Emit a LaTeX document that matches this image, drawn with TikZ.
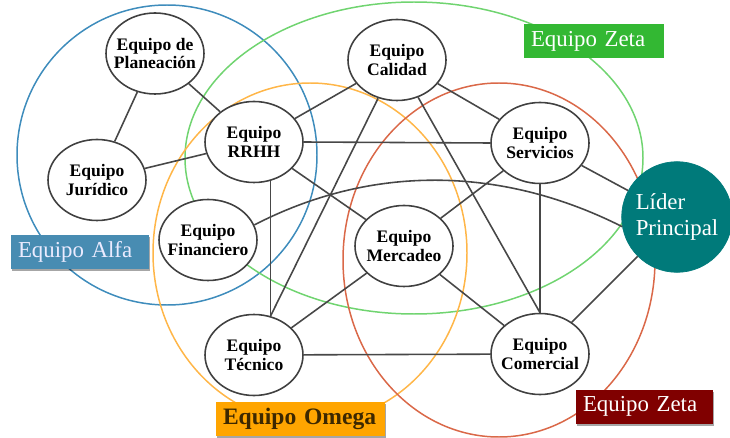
\documentclass[tikz,border=0pt]{standalone}
\usepackage{fontspec}
\setmainfont{Liberation Serif}
\usepackage{tikz}
\usetikzlibrary{shapes.geometric,shadows}

\definecolor{alfafill}{RGB}{72,140,178}
\definecolor{alfaline}{RGB}{62,140,188}
\definecolor{zetafill}{RGB}{51,184,51}
\definecolor{zetaline}{RGB}{112,212,112}
\definecolor{omegafill}{RGB}{255,165,0}
\definecolor{omegaline}{RGB}{255,182,72}
\definecolor{omegatext}{RGB}{60,40,0}
\definecolor{rojofill}{RGB}{128,0,0}
\definecolor{rojoline}{RGB}{218,104,72}
\definecolor{lidercol}{RGB}{0,122,122}

\begin{document}
\begin{tikzpicture}[
    team/.style={ellipse, draw=black!75, fill=white, line width=0.9pt,
                minimum width=1.96cm, minimum height=1.62cm, inner sep=-6pt,
                align=center, font=\fontsize{10}{10.5}\selectfont\bfseries},
    leader/.style={circle, fill=lidercol, draw=lidercol, minimum size=2.16cm,
                align=left, text=white, font=\fontsize{13}{14.5}\selectfont},
    link/.style={draw=black!72, line width=0.9pt},
    group/.style={line width=0.85pt},
    tag/.style={minimum height=0.68cm, inner xsep=0.14cm, align=left,
                font=\fontsize{13}{14}\selectfont},
    tagshadow/.style={drop shadow={shadow xshift=0.6pt, shadow yshift=-1.2pt,
                fill=black, opacity=0.35}},
]
\useasboundingbox (0,0) rectangle (14.6,8.74);

% --- Team groups ---
\draw[group, alfaline] (3.34,5.64) circle (3.0);
\draw[group, zetaline] (8.28,5.58) ellipse (4.58 and 3.12);
\draw[group, omegaline] (6.2,3.68) ellipse (3.14 and 3.4);
\draw[group, rojoline] (9.98,3.54) ellipse (3.12 and 3.54);

% --- Teams ---
\node[team] (plan) at (3.10,7.67) {Equipo de\\Planeación};
\node[team] (jur) at (1.94,5.14) {Equipo\\Jurídico};
\node[team] (rrhh) at (5.08,5.90) {Equipo\\RRHH};
\node[team] (cal) at (7.94,7.54) {Equipo\\Calidad};
\node[team] (serv) at (10.80,5.88) {Equipo\\Servicios};
\node[team] (fin) at (4.16,3.94) {Equipo\\Financiero};
\node[team] (merc) at (8.08,3.82) {Equipo\\Mercadeo};
\node[team] (tec) at (5.08,1.64) {Equipo\\Técnico};
\node[team] (com) at (10.80,1.66) {Equipo\\Comercial};
\node[leader] (lider) at (13.54,4.40) {Líder\\Principal};

% --- Links ---
\draw[link] (plan) -- (jur);
\draw[link] (plan) -- (rrhh);
\draw[link] (jur) -- (rrhh);
\draw[link] (rrhh) -- (cal);
\draw[link] (rrhh.east) -- (serv.west);
\draw[link] (rrhh) -- (merc);
\draw[link] (rrhh.-67) -- (tec.67);
\draw[link] (cal) -- (serv);
\draw[link] (cal) -- (tec.67);
\draw[link] (cal) -- (com.north);
\draw[link] (serv) -- (merc);
\draw[link] (serv) -- (com);
\draw[link] (serv) -- (lider);
\draw[link] (merc) -- (tec);
\draw[link] (merc) -- (com);
\draw[link] (tec) -- (com);
\draw[link] (com) -- (lider);
% long bend from finance over to the leader
\draw[link] (fin.18) .. controls (7.4,5.44) and (10.0,5.44) .. (lider.190);

% --- Group tags ---
\node[tag, fill=zetafill, text=white, minimum width=2.8cm, text width=2.52cm]
  (tzeta) at (11.88,7.91) {Equipo Zeta};
\node[tag, tagshadow, fill=alfafill, text=white!92!blue, minimum width=2.76cm,
  text width=2.48cm] (talfa) at (1.60,3.70) {Equipo Alfa};
\node[tag, tagshadow, fill=omegafill, text=omegatext, minimum width=3.38cm,
  text width=3.1cm, font=\fontsize{13.4}{14}\selectfont\bfseries]
  (tomega) at (6.01,0.37) {Equipo Omega};
\node[tag, tagshadow, fill=rojofill, text=white, minimum width=2.74cm,
  text width=2.46cm] (trojo) at (12.89,0.61) {Equipo Zeta};

\end{tikzpicture}
\end{document}
